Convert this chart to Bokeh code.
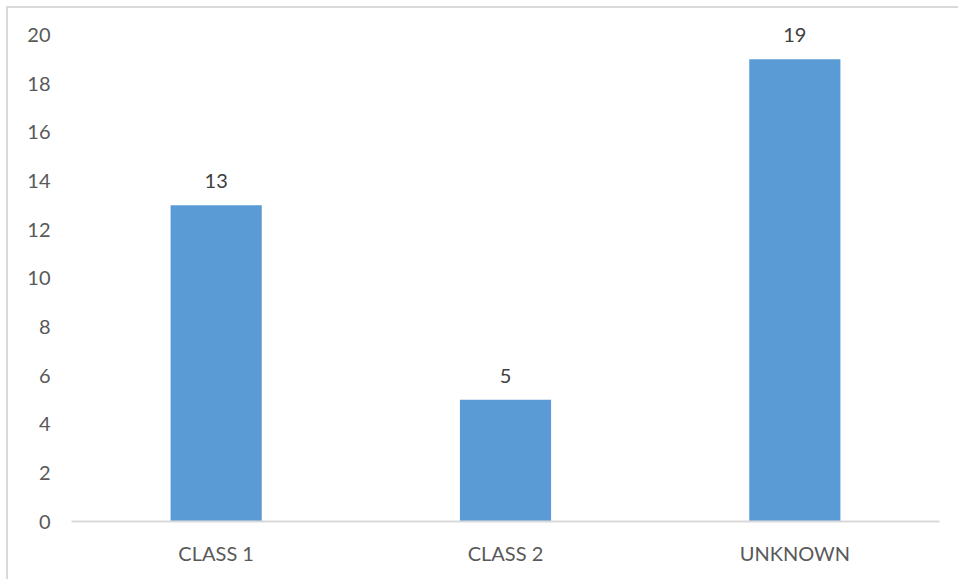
from bokeh.plotting import figure
from bokeh.models import ColumnDataSource, LabelSet, FactorRange, Range1d, FixedTicker
from bokeh.core.properties import value
from bokeh.embed import file_html
from bokeh.resources import INLINE

categories = ["CLASS 1", "CLASS 2", "UNKNOWN"]
counts = [13, 5, 19]
y_ticks = [0, 2, 4, 6, 8, 10, 12, 14, 16, 18, 20]

src = ColumnDataSource(dict(cat=categories, val=counts, lbl=[str(v) for v in counts]))

FONT = "Lato"

p = figure(
    x_range=FactorRange(*categories, range_padding=0),
    y_range=Range1d(0, 21),
    width=952, height=573,
    output_backend="svg", toolbar_location=None,
    min_border_left=63, min_border_right=21, min_border_top=2, min_border_bottom=60,
)
p.styles = {
    "margin-left": "6px", "margin-top": "6px",
    "border-left": "2px solid #d9d9d9", "border-top": "2px solid #d9d9d9",
}
p.outline_line_color = None
p.background_fill_color = "white"
p.border_fill_color = "white"

p.vbar(x="cat", top="val", width=0.315, source=src, fill_color="#5B9BD5", line_color=None)

labels = LabelSet(x="cat", y="val", text="lbl", source=src, text_align="center",
                  text_baseline="alphabetic", y_offset=17,
                  text_font=value(FONT), text_font_size=value("20px"), text_color=value("#404040"))
p.add_layout(labels)

p.xgrid.visible = False
p.ygrid.visible = False

p.xaxis.axis_line_color = "#d9d9d9"
p.xaxis.axis_line_width = 2
p.xaxis.major_tick_line_color = None
p.xaxis.minor_tick_line_color = None
p.xaxis.major_label_text_font = FONT
p.xaxis.major_label_text_font_size = "20px"
p.xaxis.major_label_text_color = "#595959"
p.xaxis.major_label_standoff = 13

p.yaxis.ticker = FixedTicker(ticks=y_ticks)
p.yaxis.axis_line_color = None
p.yaxis.major_tick_line_color = None
p.yaxis.minor_tick_line_color = None
p.yaxis.major_label_text_font = FONT
p.yaxis.major_label_text_font_size = "20px"
p.yaxis.major_label_text_color = "#595959"
p.yaxis.major_label_standoff = 15

open("out.html", "w").write(file_html(p, INLINE))
